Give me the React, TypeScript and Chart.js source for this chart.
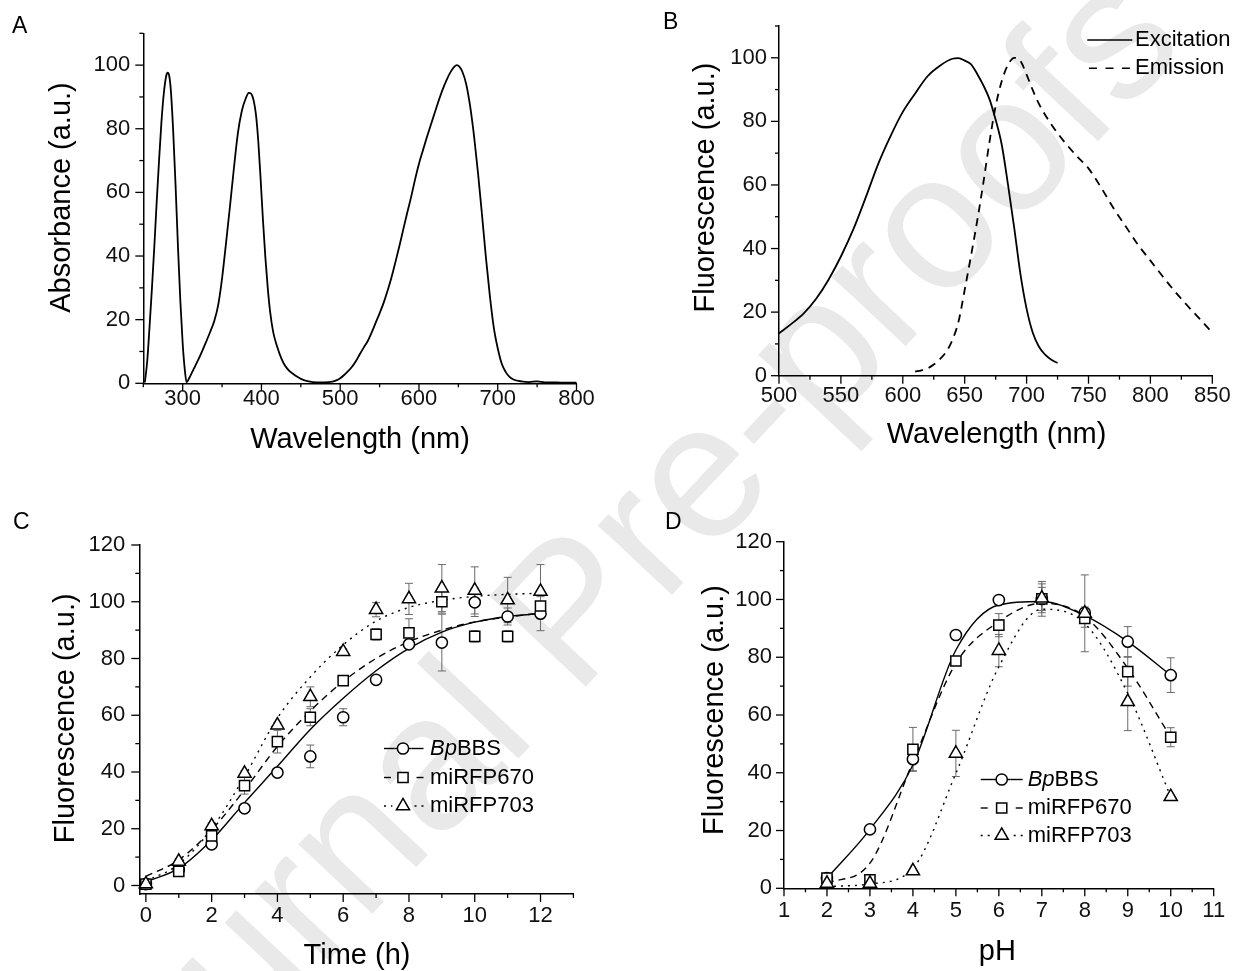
import React, { useEffect, useRef } from "react";
import { Chart, registerables } from "chart.js";

Chart.register(...registerables);

const FONT = "'Liberation Sans', Arial, Helvetica, sans-serif";

// ---------- Panel A: absorbance spectrum ----------
const absWavelength = [252,255,258,261,264,267,270,273,276,279,281,283,285,288,291,294,297,300,303,305,308,312,316,320,325,330,335,340,345,350,355,360,365,370,375,380,384,387,390,393,396,399,402,405,408,411,415,420,425,430,435,440,445,450,460,470,480,490,495,500,505,510,515,520,525,530,535,540,545,550,555,560,565,570,575,580,585,590,595,600,605,610,615,620,625,630,635,640,645,648,651,655,660,665,670,675,680,685,690,695,700,705,710,715,720,730,740,750,760,770,780,790,800];
const absorbance = [0.3,7,18,30,43,57,70,82,91,96.5,97.6,96.5,92,79,62,43,26,12.5,3.5,0.3,1.5,3.5,5.5,7.5,10.3,13.2,16.2,19.5,24.5,33,44,55.5,67.5,78.5,85.5,89.5,91.3,91,89,84.5,76,64,51,39.5,30,22.5,16,11.5,8,5.5,4,3,2.1,1.4,0.6,0.3,0.3,0.5,0.9,1.6,2.6,3.8,5.2,7,9.2,11.3,13.3,16,19,22,25.2,29,33.2,38,43,48.3,53.5,58.5,64,69,73.2,77.3,81.2,85,88.8,92.3,95.3,97.8,99.5,100,99.6,98,94,87,77.5,66,53,39.5,27.5,17.5,11,6.2,3.6,2,1.2,0.6,0.4,0.6,0.3,0.3,0.2,0.2,0.2];

// ---------- Panel B: excitation / emission ----------
const excWavelength = [500,510,520,530,540,550,560,570,580,590,600,610,620,630,640,645,650,655,660,665,670,675,680,685,690,695,700,705,710,715,720,725];
const excitation = [13.3,16.3,19.6,24.2,30.2,37.5,46,56,66.5,75.3,83,88.8,94.2,97.5,99.7,99.9,99.1,98,95,91.4,87,80.5,72.5,60,46.5,32,21,13.5,9.1,6.6,5,4];
const emWavelength = [610,615,620,625,630,635,640,645,650,655,660,665,670,675,680,685,690,695,700,705,710,720,730,740,750,760,770,780,790,800,810,820,830,840,850];
const emission = [1.3,1.7,2.3,3.5,5.2,7.5,11.2,17,27,37.5,48.5,60.5,73.5,84.8,92.8,97.8,100,99,94.7,89.8,85.5,79,73.8,69.3,65.2,59.3,52.8,47,41.2,36.2,31.2,26.4,22,17.8,13.5];

// ---------- Panel C: maturation time course ----------
const timeHours = [0,1,2,3,4,5,6,7,8,9,10,11,12];
const bbsTime = [0.5,5.5,14.5,27.2,39.8,45.5,59.3,72.5,85,85.6,99.8,94.8,95.8];
const bbsTimeErr = [0.5,0.8,1,1,1,4,3,1,1.5,10,5,3,6];
const rfp670Time = [0.5,5,17.5,35.2,50.7,59.3,72.2,88.5,89,100,87.8,87.8,98.5];
const rfp670TimeErr = [0.5,0.5,1.5,3,4,3,1,2,5,4,2,2,4];
const rfp703Time = [0.5,8.5,21,39.5,56.5,66.5,82.4,97.2,101,104.8,104,100.6,103.6];
const rfp703TimeErr = [0.5,1,1,1,1,3.5,1,2.5,5.5,8.3,8.3,8,9.5];
const bbsTimeFit = [1.3,6,16,29.2,42,55,66,75.7,83.6,89.3,92.8,94.8,95.8];
const rfp670TimeFit = [3.2,9,19.6,33.7,49,61.5,71.9,80,85.9,90,92.9,94.6,96];
const rfp703TimeFit = [1.5,7.5,20,38.4,59,73.5,84.8,93.2,98,100.5,101.9,102.6,103];

// ---------- Panel D: pH dependence ----------
const phValues = [2,3,4,5,6,7,8,9,10];
const bbsPh = [3.5,20.4,44.7,87.7,99.8,100.2,95.4,85.4,73.8];
const bbsPhErr = [0.5,1,4,1.5,1.5,6,2,5.2,6];
const rfp670Ph = [3.5,2.9,48.1,78.7,91.1,100.2,93.4,75,52.3];
const rfp670PhErr = [0.5,0.5,7.6,1,4,4,3,5,3.3];
const rfp703Ph = [1.7,1.7,6,46.7,82.3,100.4,95.2,64.6,31.7];
const rfp703PhErr = [0.5,0.5,0.5,8,5.6,5,13.3,10,0.5];
const bbsPhFit = [3.5,20.4,42.7,82.5,98.1,99.3,94.4,85.4,73.8];
const rfp670PhFit = [1.7,8.7,43.8,77.9,92.3,98.7,94.1,76.2,52.3];
const rfp703PhFit = [0.6,1.5,6.9,39.8,76.7,96.6,91.7,67.5,31.7];

const SERIES_NAMES = ["BpBBS", "miRFP670", "miRFP703"];

// ---------- styling constants ----------
const MARKER_R: Record<string, number> = { circle: 5.6, rect: 7.2, triangle: 7.6 };
const DASHED = [7, 5];
const DOTTED = [2, 5];
const MAJOR_TICK = 8;
const MINOR_TICK = 4;

const pts = (xs: number[], ys: number[]) => xs.map((x, i) => ({ x, y: ys[i] }));

function curve(label: string, xs: number[], ys: number[], dash: number[] = [], width = 1.8) {
  return {
    label,
    data: pts(xs, ys),
    borderColor: "#000",
    borderWidth: width,
    borderDash: dash,
    pointRadius: 0,
    fill: false,
    cubicInterpolationMode: "monotone",
    clip: false,
  };
}

function markers(label: string, xs: number[], ys: number[], errs: number[], style: string) {
  return {
    label,
    data: pts(xs, ys),
    errors: errs,
    showLine: false,
    pointStyle: style,
    pointRadius: MARKER_R[style],
    pointBorderWidth: 1.5,
    pointBorderColor: "#000",
    pointBackgroundColor: "#fff",
    borderColor: "#000",
    clip: false,
  };
}

function drawMarker(ctx: CanvasRenderingContext2D, style: string, x: number, y: number) {
  const r = MARKER_R[style];
  ctx.save();
  ctx.setLineDash([]);
  ctx.fillStyle = "#fff";
  ctx.strokeStyle = "#000";
  ctx.lineWidth = 1.5;
  ctx.beginPath();
  if (style === "circle") {
    ctx.arc(x, y, r, 0, Math.PI * 2);
  } else if (style === "rect") {
    const s = r * Math.SQRT1_2;
    ctx.rect(x - s, y - s, 2 * s, 2 * s);
  } else {
    ctx.moveTo(x, y - r);
    ctx.lineTo(x + 0.866 * r, y + 0.5 * r);
    ctx.lineTo(x - 0.866 * r, y + 0.5 * r);
    ctx.closePath();
  }
  ctx.fill();
  ctx.stroke();
  ctx.restore();
}

type Area = { left: number; right: number; top: number; bottom: number };
type AxisSpec = { min: number; max: number; step: number; minor: number; pad: number };
type Label = { text: string; x: number; y: number };
type LegendRow = {
  parts: { t: string; italic?: boolean }[];
  y: number;
  dash: number[];
  marker?: string;
  x0: number;
  x1: number;
  xm: number;
  textX: number;
};
type Panel = {
  box: { left: number; top: number; width: number; height: number };
  area: Area;
  x: AxisSpec;
  y: AxisSpec;
  xTitle: Label;
  yTitle: Label;
  letter: Label;
  datasets: any[];
  legend: LegendRow[];
};

function seriesLegend(x0: number, x1: number, xm: number, textX: number, ys: number[]): LegendRow[] {
  return [
    { parts: [{ t: "Bp", italic: true }, { t: "BBS" }], y: ys[0], dash: [], marker: "circle", x0, x1, xm, textX },
    { parts: [{ t: SERIES_NAMES[1] }], y: ys[1], dash: DASHED, marker: "rect", x0, x1, xm, textX },
    { parts: [{ t: SERIES_NAMES[2] }], y: ys[2], dash: DOTTED, marker: "triangle", x0, x1, xm, textX },
  ];
}

const PANELS: Panel[] = [
  {
    box: { left: 0, top: 0, width: 620, height: 480 },
    area: { left: 143.3, right: 576.5, top: 33.3, bottom: 383.3 },
    x: { min: 250, max: 800, step: 100, minor: 50, pad: 2 },
    y: { min: 0, max: 110, step: 20, minor: 10, pad: 13 },
    xTitle: { text: "Wavelength (nm)", x: 360, y: 440 },
    yTitle: { text: "Absorbance (a.u.)", x: 62, y: 197.5 },
    letter: { text: "A", x: 12, y: 27 },
    datasets: [curve("Absorbance", absWavelength, absorbance)],
    legend: [],
  },
  {
    box: { left: 620, top: 0, width: 619, height: 480 },
    area: { left: 159, right: 592.3, top: 26, bottom: 375.7 },
    x: { min: 500, max: 850, step: 50, minor: 25, pad: 6.6 },
    y: { min: 0, max: 110, step: 20, minor: 10, pad: 12 },
    xTitle: { text: "Wavelength (nm)", x: 376.5, y: 435 },
    yTitle: { text: "Fluorescence (a.u.)", x: 86, y: 187.5 },
    letter: { text: "B", x: 43, y: 23 },
    datasets: [
      curve("Excitation", excWavelength, excitation),
      curve("Emission", emWavelength, emission, [8, 6]),
    ],
    legend: [
      { parts: [{ t: "Excitation" }], y: 40, dash: [], x0: 467.3, x1: 512.3, xm: 512.3, textX: 515 },
      { parts: [{ t: "Emission" }], y: 68.3, dash: [8, 8.5], x0: 469, x1: 512.3, xm: 512.3, textX: 515 },
    ],
  },
  {
    box: { left: 0, top: 480, width: 620, height: 491 },
    area: { left: 139.3, right: 573.4, top: 65, bottom: 414 },
    x: { min: -0.2, max: 13, step: 2, minor: 1, pad: 8.8 },
    y: { min: -3, max: 120, step: 20, minor: 10, pad: 14 },
    xTitle: { text: "Time (h)", x: 357, y: 476 },
    yTitle: { text: "Fluorescence (a.u.)", x: 66, y: 238.3 },
    letter: { text: "C", x: 13, y: 43 },
    datasets: [
      markers(SERIES_NAMES[2], timeHours, rfp703Time, rfp703TimeErr, "triangle"),
      markers(SERIES_NAMES[1], timeHours, rfp670Time, rfp670TimeErr, "rect"),
      markers(SERIES_NAMES[0], timeHours, bbsTime, bbsTimeErr, "circle"),
      curve(SERIES_NAMES[0] + " fit", timeHours, bbsTimeFit, [], 1.4),
      curve(SERIES_NAMES[1] + " fit", timeHours, rfp670TimeFit, DASHED, 1.4),
      curve(SERIES_NAMES[2] + " fit", timeHours, rfp703TimeFit, DOTTED, 1.4),
    ],
    legend: seriesLegend(384, 423.5, 403, 430, [268.5, 297.5, 326]),
  },
  {
    box: { left: 620, top: 480, width: 619, height: 491 },
    area: { left: 164, right: 593.7, top: 61.7, bottom: 408.3 },
    x: { min: 1, max: 11, step: 1, minor: 0.5, pad: 9.3 },
    y: { min: 0, max: 120, step: 20, minor: 10, pad: 12 },
    xTitle: { text: "pH", x: 377.3, y: 472 },
    yTitle: { text: "Fluorescence (a.u.)", x: 94.5, y: 230 },
    letter: { text: "D", x: 45, y: 42.5 },
    datasets: [
      markers(SERIES_NAMES[2], phValues, rfp703Ph, rfp703PhErr, "triangle"),
      markers(SERIES_NAMES[1], phValues, rfp670Ph, rfp670PhErr, "rect"),
      markers(SERIES_NAMES[0], phValues, bbsPh, bbsPhErr, "circle"),
      curve(SERIES_NAMES[0] + " fit", phValues, bbsPhFit, [], 1.4),
      curve(SERIES_NAMES[1] + " fit", phValues, rfp670PhFit, DASHED, 1.4),
      curve(SERIES_NAMES[2] + " fit", phValues, rfp703PhFit, DOTTED, 1.4),
    ],
    legend: seriesLegend(360.7, 402.7, 381.7, 407.7, [299.5, 328, 355.5]),
  },
];

const errorBarPlugin = {
  id: "errorBars",
  beforeDatasetsDraw(chart: any) {
    const ctx: CanvasRenderingContext2D = chart.ctx;
    const ys = chart.scales.y;
    chart.data.datasets.forEach((ds: any, i: number) => {
      const errs: number[] | undefined = ds.errors;
      if (!errs) return;
      const meta = chart.getDatasetMeta(i);
      ctx.save();
      ctx.strokeStyle = "#6a6a6a";
      ctx.lineWidth = 1;
      meta.data.forEach((el: any, j: number) => {
        const e = errs[j];
        if (!e) return;
        const v = ds.data[j].y;
        const yt = ys.getPixelForValue(v + e);
        const yb = ys.getPixelForValue(v - e);
        const x = el.x;
        ctx.beginPath();
        ctx.moveTo(x, yt);
        ctx.lineTo(x, yb);
        ctx.moveTo(x - 4, yt);
        ctx.lineTo(x + 4, yt);
        ctx.moveTo(x - 4, yb);
        ctx.lineTo(x + 4, yb);
        ctx.stroke();
      });
      ctx.restore();
    });
  },
};

function makeFramePlugin(p: Panel) {
  return {
    id: "originFrame",
    afterDraw(chart: any) {
      const ctx: CanvasRenderingContext2D = chart.ctx;
      const { left, bottom } = chart.chartArea;
      const xs = chart.scales.x;
      const ys = chart.scales.y;
      ctx.save();
      ctx.strokeStyle = "#000";
      ctx.lineWidth = 1.3;
      // x-axis ticks (outward)
      for (let i = Math.ceil(p.x.min / p.x.minor - 1e-9); i * p.x.minor <= p.x.max + 1e-9; i++) {
        const v = i * p.x.minor;
        const major = Math.abs(v / p.x.step - Math.round(v / p.x.step)) < 1e-6;
        const px = xs.getPixelForValue(v);
        ctx.beginPath();
        ctx.moveTo(px, bottom);
        ctx.lineTo(px, bottom + (major ? MAJOR_TICK : MINOR_TICK));
        ctx.stroke();
      }
      // y-axis ticks (outward)
      for (let i = Math.ceil(p.y.min / p.y.minor - 1e-9); i * p.y.minor <= p.y.max + 1e-9; i++) {
        const v = i * p.y.minor;
        const major = Math.abs(v / p.y.step - Math.round(v / p.y.step)) < 1e-6;
        const py = ys.getPixelForValue(v);
        ctx.beginPath();
        ctx.moveTo(left, py);
        ctx.lineTo(left - (major ? MAJOR_TICK : MINOR_TICK), py);
        ctx.stroke();
      }
      // axis titles
      ctx.fillStyle = "#000";
      ctx.textAlign = "center";
      ctx.textBaseline = "middle";
      ctx.font = `29px ${FONT}`;
      ctx.fillText(p.xTitle.text, p.xTitle.x, p.xTitle.y);
      ctx.save();
      ctx.translate(p.yTitle.x, p.yTitle.y);
      ctx.rotate(-Math.PI / 2);
      ctx.fillText(p.yTitle.text, 0, 0);
      ctx.restore();
      // panel letter
      ctx.textAlign = "left";
      ctx.font = `23px ${FONT}`;
      ctx.fillText(p.letter.text, p.letter.x, p.letter.y);
      // legend
      for (const row of p.legend) {
        ctx.save();
        ctx.strokeStyle = "#000";
        ctx.lineWidth = 1.4;
        ctx.setLineDash(row.dash);
        const gap = row.marker ? MARKER_R[row.marker] + 3 : 0;
        ctx.beginPath();
        ctx.moveTo(row.x0, row.y);
        ctx.lineTo(row.xm - gap, row.y);
        ctx.stroke();
        if (row.marker) {
          ctx.beginPath();
          ctx.moveTo(row.x1, row.y);
          ctx.lineTo(row.xm + gap, row.y);
          ctx.stroke();
          ctx.setLineDash([]);
          if (row.dash.length === 0) {
            ctx.beginPath();
            ctx.moveTo(row.xm - gap, row.y);
            ctx.lineTo(row.xm + gap, row.y);
            ctx.stroke();
          }
          drawMarker(ctx, row.marker, row.xm, row.y);
        }
        ctx.setLineDash([]);
        ctx.fillStyle = "#000";
        ctx.textAlign = "left";
        ctx.textBaseline = "middle";
        let tx = row.textX;
        for (const part of row.parts) {
          ctx.font = `${part.italic ? "italic " : ""}22px ${FONT}`;
          ctx.fillText(part.t, tx, row.y);
          tx += ctx.measureText(part.t).width;
        }
        ctx.restore();
      }
      ctx.restore();
    },
  };
}

function axisOptions(spec: AxisSpec, isX: boolean, fitSize: number) {
  return {
    type: "linear",
    position: isX ? "bottom" : "left",
    min: spec.min,
    max: spec.max,
    afterFit: (s: any) => {
      if (isX) s.height = fitSize;
      else s.width = fitSize;
    },
    grid: { display: true, drawOnChartArea: false, drawTicks: false },
    border: { display: true, color: "#000", width: 1.5 },
    ticks: {
      stepSize: spec.step,
      includeBounds: false,
      autoSkip: false,
      maxRotation: 0,
      minRotation: 0,
      padding: spec.pad,
      color: "#111",
      font: { family: FONT, size: 22 },
      callback: (v: any) => String(Math.round(Number(v) * 100) / 100),
    },
  };
}

function buildChart(canvas: HTMLCanvasElement, p: Panel) {
  const { area, box } = p;
  return new Chart(canvas, {
    type: "line",
    data: { datasets: p.datasets },
    options: {
      responsive: false,
      animation: false,
      devicePixelRatio: 1,
      layout: { padding: { left: 0, top: area.top, right: box.width - area.right, bottom: 0 } },
      plugins: { legend: { display: false }, tooltip: { enabled: false }, title: { display: false } },
      scales: {
        x: axisOptions(p.x, true, box.height - area.bottom),
        y: axisOptions(p.y, false, area.left),
      },
    } as any,
    plugins: [errorBarPlugin, makeFramePlugin(p)],
  } as any);
}

export default function App() {
  const refs = useRef<(HTMLCanvasElement | null)[]>([]);
  useEffect(() => {
    const charts = PANELS.map((p, i) => buildChart(refs.current[i] as HTMLCanvasElement, p));
    return () => charts.forEach((c) => c.destroy());
  }, []);
  return (
    <div
      style={{
        position: "absolute",
        left: 0,
        top: 0,
        width: 1239,
        height: 971,
        background: "#fff",
        overflow: "hidden",
      }}
    >
      <div
        style={{
          position: "absolute",
          left: 600,
          top: 575,
          transform: "translate(-50%, -50%) rotate(-46.8deg)",
          fontFamily: FONT,
          fontSize: 192,
          lineHeight: 1,
          color: "#e9e9e9",
          whiteSpace: "nowrap",
          userSelect: "none",
        }}
      >
        Journal Pre-proofs
      </div>
      {PANELS.map((p, i) => (
        <canvas
          key={i}
          ref={(el) => {
            refs.current[i] = el;
          }}
          width={p.box.width}
          height={p.box.height}
          style={{
            position: "absolute",
            left: p.box.left,
            top: p.box.top,
            width: p.box.width,
            height: p.box.height,
          }}
        />
      ))}
    </div>
  );
}
